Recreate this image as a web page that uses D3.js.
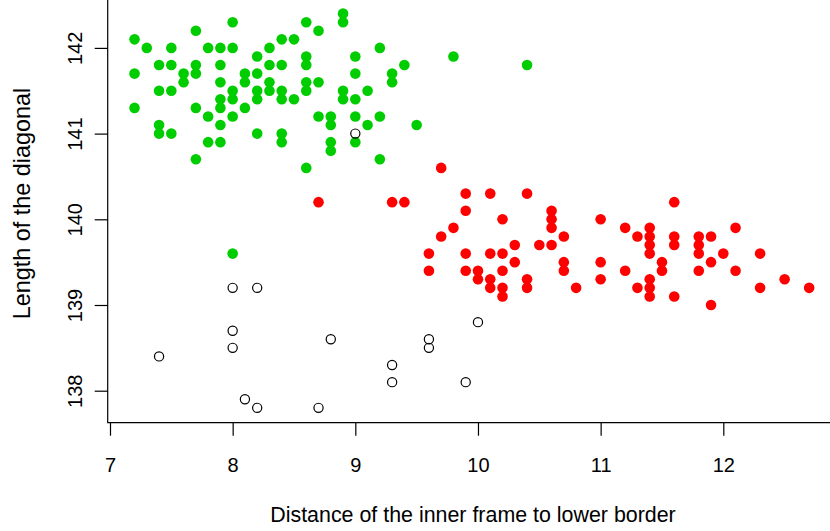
<!DOCTYPE html>
<html>
<head>
<meta charset="utf-8">
<script src="https://cdn.jsdelivr.net/npm/d3@7"></script>
<style>
  html, body { margin: 0; padding: 0; background: #fff; }
  svg { display: block; }
  text { font-family: "Liberation Sans", Arial, Helvetica, sans-serif; fill: #000; }
</style>
</head>
<body>
<svg id="chart" width="830" height="531"></svg>
<script>
// Swiss banknotes: distance of inner frame to lower border (x) vs length of diagonal (y)

// genuine notes
const genuineBottom = [7.2,7.3,7.5,7.7,8.0,7.8,7.9,8.0,
  7.2,7.4,7.5,7.6,7.6,7.7,7.7,7.9,8.1,8.1,
  7.4,7.5,7.9,8.0,8.0,7.9,7.9,7.2,7.7,7.8,8.0,8.1,7.9,7.4,7.4,7.5,7.8,7.9,7.7,
  8.2,8.2,8.2,8.2,8.2,8.3,8.3,8.3,8.3,
  8.4,8.4,8.4,8.4,8.4,8.4,8.5,8.5,
  8.6,8.6,8.6,8.6,8.6,8.6,8.7,8.7,8.7,
  8.8,8.8,8.8,8.8,8.9,8.9,8.9,8.9,
  9.0,9.0,9.0,9.0,9.0,9.1,9.1,9.2,9.2,9.2,
  9.3,9.3,9.4,9.8,10.4,9.5,8.0];
const genuineDiagonal = [142.1,142.0,142.0,142.2,142.3,142.0,142.0,142.0,
  141.7,141.8,141.8,141.7,141.6,141.8,141.7,141.8,141.7,141.6,
  141.5,141.5,141.6,141.5,141.4,141.4,141.3,141.3,141.3,141.2,141.2,141.3,141.1,141.1,141.0,141.0,140.9,140.9,140.7,
  141.9,141.7,141.5,141.4,141.0,142.0,141.8,141.6,141.5,
  142.1,141.8,141.5,141.4,141.0,140.9,142.1,141.4,
  142.3,141.9,141.8,141.6,141.5,140.6,142.2,141.6,141.2,
  141.2,141.1,140.9,140.8,142.4,142.3,141.5,141.4,
  141.9,141.7,141.4,141.2,140.9,141.5,141.1,142.0,141.2,140.7,
  141.7,141.6,141.8,141.9,141.8,141.1,139.6];

// forged notes
const forgedBottom = [9.7,8.7,9.3,9.4,9.8,9.7,9.6,9.6,
  9.9,10.1,10.4,9.9,10.2,10.6,10.6,10.6,10.7,11.0,11.2,11.3,
  9.9,10.1,10.2,10.3,10.5,10.6,10.3,10.7,10.7,11.0,
  9.9,10.0,10.0,10.2,10.1,10.1,10.2,10.2,10.4,10.4,10.8,11.0,11.2,11.3,
  11.6,11.4,11.4,11.4,11.4,11.6,11.6,11.8,11.8,11.8,11.9,12.1,11.5,11.5,11.9,12.0,12.3,11.8,12.1,
  11.4,11.4,11.4,11.6,11.9,12.3,12.5,12.7];
const forgedDiagonal = [140.6,140.2,140.2,140.2,139.9,139.8,139.6,139.4,
  140.3,140.3,140.3,140.1,140.0,140.1,140.0,139.9,139.8,140.0,139.9,139.8,
  139.6,139.6,139.6,139.7,139.7,139.7,139.5,139.5,139.4,139.5,
  139.4,139.4,139.3,139.4,139.3,139.2,139.2,139.1,139.3,139.2,139.2,139.3,139.4,139.2,
  140.2,139.9,139.8,139.7,139.6,139.8,139.7,139.8,139.7,139.6,139.8,139.9,139.5,139.4,139.5,139.6,139.6,139.4,139.4,
  139.3,139.2,139.1,139.1,139.0,139.2,139.3,139.2];

// notes outside both groups (drawn as open circles)
const otherBottom = [9.0,8.0,8.2,8.0,8.0,7.4,8.1,8.2,8.8,9.6,9.6,9.3,9.3,9.9,10.0,8.7];
const otherDiagonal = [141.0,139.2,139.2,138.7,138.5,138.4,137.9,137.8,138.6,138.6,138.5,138.3,138.1,138.1,138.8,137.8];

const xTicks = [7, 8, 9, 10, 11, 12];
const yTicks = [138, 139, 140, 141, 142];
const xTitle = "Distance of the inner frame to lower border";
const yTitle = "Length of the diagonal";

const svg = d3.select("#chart");
const tickFont = 20;

const x = d3.scaleLinear().domain([7, 12]).range([110, 723.3]);
const y = d3.scaleLinear().domain([138, 142]).range([390.7, 47.9]);

const boxLeft = 107.7, boxBottom = 422.7;

// L-shaped frame
svg.append("path")
  .attr("d", `M${boxLeft},-5 V${boxBottom} H840`)
  .attr("fill", "none").attr("stroke", "#000").attr("stroke-width", 1.2);

// x axis
const gx = svg.append("g").attr("transform", `translate(0,${boxBottom})`)
  .call(d3.axisBottom(x).tickValues(xTicks).tickSize(13).tickSizeOuter(0).tickPadding(0).tickFormat(d3.format("d")));
gx.select(".domain").remove();
gx.selectAll("line").attr("stroke", "#000").attr("stroke-width", 1.2);
gx.selectAll("text").attr("font-size", tickFont).attr("dy", null).attr("y", 49.5)
  .attr("font-family", "Liberation Sans, Arial, sans-serif");

// y axis
const gy = svg.append("g").attr("transform", `translate(${boxLeft},0)`)
  .call(d3.axisLeft(y).tickValues(yTicks).tickSize(13).tickSizeOuter(0).tickFormat(d3.format("d")));
gy.select(".domain").remove();
gy.selectAll("line").attr("stroke", "#000").attr("stroke-width", 1.2);
gy.selectAll("text").attr("font-size", tickFont)
  .attr("x", null).attr("dy", null).attr("text-anchor", "middle")
  .attr("transform", "translate(-25.5,0) rotate(-90)")
  .attr("font-family", "Liberation Sans, Arial, sans-serif");

// axis titles
svg.append("text").attr("x", 473).attr("y", 522)
  .attr("text-anchor", "middle").attr("font-size", 21.4).text(xTitle);
svg.append("text")
  .attr("transform", `translate(30,203.5) rotate(-90)`)
  .attr("text-anchor", "middle").attr("font-size", 23.4).text(yTitle);

// points
function drawFilled(xs, ys, color) {
  svg.append("g").selectAll("circle")
    .data(xs.map((v, i) => [v, ys[i]]))
    .join("circle")
    .attr("cx", d => x(d[0])).attr("cy", d => y(d[1]))
    .attr("r", 5.3).attr("fill", color);
}
drawFilled(genuineBottom, genuineDiagonal, "#00CD00");
drawFilled(forgedBottom, forgedDiagonal, "#FF0000");

svg.append("g").selectAll("circle")
  .data(otherBottom.map((v, i) => [v, otherDiagonal[i]]))
  .join("circle")
  .attr("cx", d => x(d[0])).attr("cy", d => y(d[1]))
  .attr("r", 4.6).attr("fill", "none").attr("stroke", "#000").attr("stroke-width", 1.2);
</script>
</body>
</html>
